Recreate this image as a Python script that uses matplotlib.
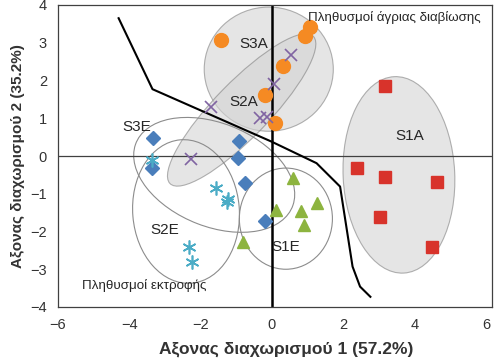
import matplotlib
matplotlib.use('Agg')
import matplotlib.pyplot as plt
from matplotlib.patches import Ellipse

plt.rcParams['font.family'] = ['Liberation Sans', 'DejaVu Sans']

# group scores
s3a_x = [-1.44, 1.06, 0.92, 0.30, -0.20, 0.09]
s3a_y = [3.06, 3.41, 3.18, 2.39, 1.61, 0.87]
s2a_x = [0.53, 0.07, -1.72, -0.34, -0.15, -2.28]
s2a_y = [2.68, 1.92, 1.29, 1.00, 1.04, -0.09]
s3e_x = [-3.35, -0.92, -0.96, -3.37, -0.76, -0.19]
s3e_y = [0.49, 0.41, -0.06, -0.33, -0.72, -1.71]
s2e_x = [-3.37, -1.57, -1.22, -1.27, -2.34, -2.25]
s2e_y = [-0.11, -0.86, -1.15, -1.21, -2.42, -2.80]
s1e_x = [0.58, 0.11, 0.81, 1.25, 0.90, -0.82]
s1e_y = [-0.59, -1.43, -1.47, -1.25, -1.83, -2.27]
s1a_x = [3.17, 2.39, 3.18, 4.63, 3.03, 4.49]
s1a_y = [1.85, -0.31, -0.55, -0.69, -1.61, -2.41]

# dividing line between wild and farmed populations
line_x = [-4.30, -3.35, -0.01, 1.25, 1.91, 2.26, 2.47, 2.76]
line_y = [3.65, 1.77, 0.38, -0.19, -0.81, -2.93, -3.46, -3.73]

fig = plt.figure(figsize=(4.94, 3.62), dpi=100)
ax = fig.add_axes([58 / 494, 55 / 362, 434 / 494, 302 / 362])
ax.set_xlim(-6, 6.17)
ax.set_ylim(-4, 4)

# group ellipses: centre, width, height, angle, filled
ell = [
    ((-0.09, 2.30), 3.62, 3.29, 0, True),
    ((3.56, -0.50), 3.13, 5.21, 3, True),
    ((-0.85, 1.22), 5.6, 1.5, 44, True),
    ((-1.62, -0.50), 4.7, 2.75, -20, False),
    ((-2.41, -1.47), 2.99, 3.81, 5, False),
    ((0.39, -1.66), 2.61, 2.68, 0, False),
]
for c, w, h, a, filled in ell:
    if filled:
        e = Ellipse(c, w, h, angle=a, facecolor='#d4d4d4', alpha=0.6,
                    edgecolor='#808080', linewidth=0.8, zorder=1)
    else:
        e = Ellipse(c, w, h, angle=a, facecolor='none',
                    edgecolor='#8c8c8c', linewidth=0.8, zorder=1)
    ax.add_patch(e)

ax.axhline(0, color='#404040', linewidth=0.9, zorder=2)
ax.axvline(0, color='black', linewidth=1.8, zorder=2)
ax.plot(line_x, line_y, color='black', linewidth=1.5, zorder=3)

ax.plot(s3a_x, s3a_y, 'o', color='#f58a23', ms=10, mec='#f58a23', ls='none', zorder=4)
ax.plot(s2a_x, s2a_y, 'x', color='#8064a2', ms=9, mew=1.2, ls='none', zorder=4)
ax.plot(s3e_x, s3e_y, 'D', color='#4a7ebb', ms=7, ls='none', zorder=4)
ax.plot(s2e_x, s2e_y, marker=(6, 2, 0), color='#4bacc6', ms=10, mew=1.2, ls='none', zorder=4)
ax.plot(s1e_x, s1e_y, '^', color='#8db43f', ms=9, ls='none', zorder=4)
ax.plot(s1a_x, s1a_y, 's', color='#d8332b', ms=9, ls='none', zorder=4)

lab = dict(fontsize=11, color='#262626', zorder=5, ha='center', va='center')
ax.text(-0.52, 2.98, 'S3A', **lab)
ax.text(-0.80, 1.44, 'S2A', **lab)
ax.text(-3.79, 0.78, 'S3E', **lab)
ax.text(3.85, 0.53, 'S1A', **lab)
ax.text(-3.00, -1.96, 'S2E', **lab)
ax.text(0.39, -2.40, 'S1E', **lab)
ax.text(1.02, 3.67, 'Πληθυσμοί άγριας διαβίωσης', fontsize=9.6, color='#262626',
        va='center', ha='left', zorder=5)
ax.text(-5.33, -3.44, 'Πληθυσμοί εκτροφής', fontsize=9.6, color='#262626',
        va='center', ha='left', zorder=5)

ax.set_xticks([-6, -4, -2, 0, 2, 4, 6])
ax.set_yticks([-4, -3, -2, -1, 0, 1, 2, 3, 4])
ax.tick_params(length=0, labelsize=10.5, labelcolor='#333333', pad=8)
for s in ax.spines.values():
    s.set_color('#404040')
    s.set_linewidth(0.9)

ax.set_xlabel('Αξονας διαχωρισμού 1 (57.2%)', fontsize=12.5, fontweight='bold',
              color='#333333')
ax.xaxis.set_label_coords(0.525, -0.115)
ax.set_ylabel('Αξονας διαχωρισμού 2 (35.2%)', fontsize=11, fontweight='bold',
              color='#333333', labelpad=4)

fig.savefig('out.png', dpi=100)
